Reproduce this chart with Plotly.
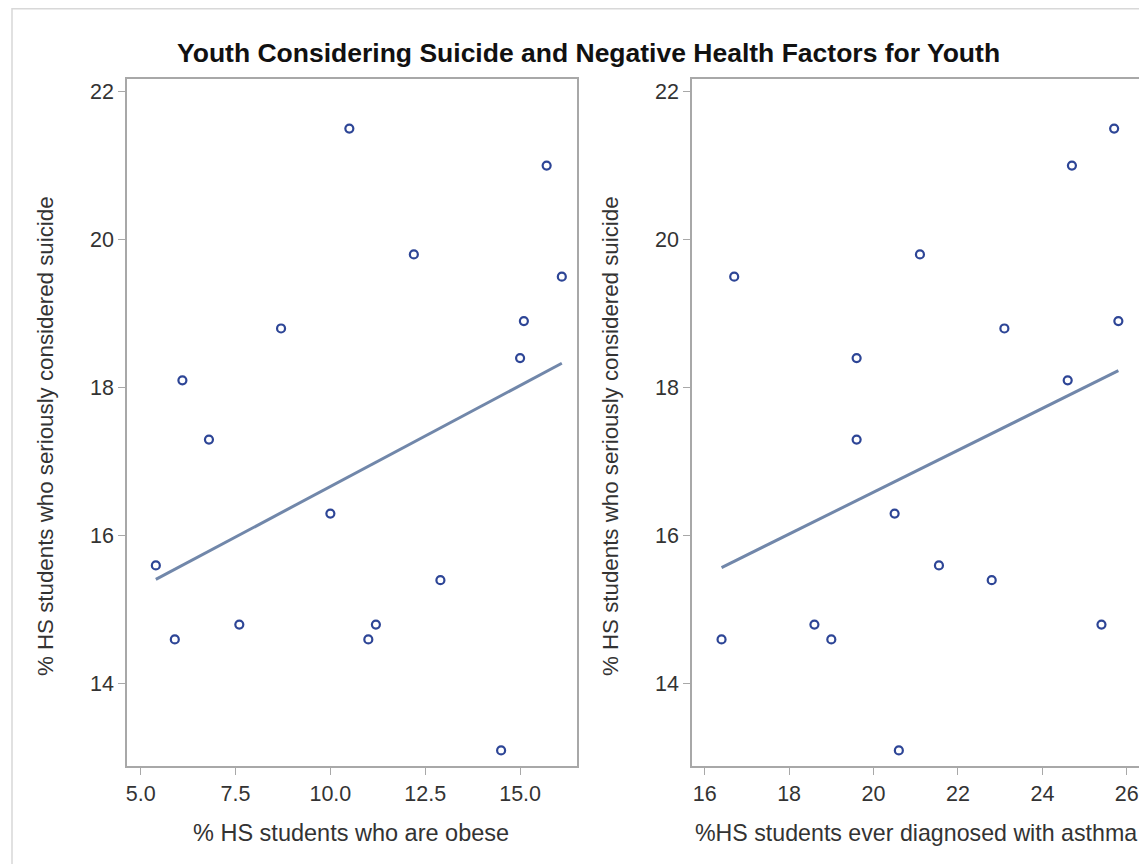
import plotly.graph_objects as go

# Data (one row per state)
suicide = [21.5, 21.0, 19.8, 19.5, 18.8, 18.9, 18.4, 18.1, 17.3, 16.3, 15.6, 15.4, 14.8, 14.8, 14.6, 14.6, 13.1]
obese   = [10.5, 15.7, 12.2, 16.1, 8.7, 15.1, 15.0, 6.1, 6.8, 10.0, 5.4, 12.9, 7.6, 11.2, 5.9, 11.0, 14.5]
asthma  = [25.7, 24.7, 21.1, 16.7, 23.1, 25.8, 19.6, 24.6, 19.6, 20.5, 21.55, 22.8, 18.6, 25.4, 16.4, 19.0, 20.6]

# Regression fit lines (endpoints)
fit_obese_x = [5.4, 16.1]
fit_obese_y = [15.41, 18.33]
fit_asthma_x = [16.4, 25.8]
fit_asthma_y = [15.57, 18.23]

title_text = "Youth Considering Suicide and Negative Health Factors for Youth"
xlabel1 = "% HS students who are obese"
xlabel2 = "%HS students ever diagnosed with asthma"
ylabel = "% HS students who seriously considered suicide"

# page has an 8px body margin, so the figure is placed at (8, 8)
OFF = 8
W, H = 1147 - OFF, 864 - OFF
FONT = "Liberation Sans, Arial, sans-serif"
MARK = "#2d4596"
FIT = "#7187aa"
FRAME = "#a8a8a8"
TXT = "#333333"

fig = go.Figure()
marker = dict(symbol="circle-open", size=8, color=MARK, line=dict(width=2.2, color=MARK))
fig.add_trace(go.Scatter(x=obese, y=suicide, mode="markers", marker=marker, xaxis="x", yaxis="y", showlegend=False))
fig.add_trace(go.Scatter(x=fit_obese_x, y=fit_obese_y, mode="lines", line=dict(color=FIT, width=3), xaxis="x", yaxis="y", showlegend=False))
fig.add_trace(go.Scatter(x=asthma, y=suicide, mode="markers", marker=marker, xaxis="x2", yaxis="y2", showlegend=False))
fig.add_trace(go.Scatter(x=fit_asthma_x, y=fit_asthma_y, mode="lines", line=dict(color=FIT, width=3), xaxis="x2", yaxis="y2", showlegend=False))

def px_x(p):
    return (p - OFF) / W

def px_y(p):
    return 1 - (p - OFF) / H

ax_common = dict(
    showgrid=False, zeroline=False, showline=True, linecolor=FRAME, linewidth=1.5,
    mirror=True, ticks="outside", ticklen=7, tickwidth=1, tickcolor=FRAME,
    tickfont=dict(family=FONT, size=21.5, color=TXT),
)

fig.update_layout(
    width=W, height=H,
    margin=dict(l=0, r=0, t=0, b=0),
    paper_bgcolor="white", plot_bgcolor="white",
    xaxis=dict(domain=[px_x(127), px_x(577)], range=[4.64, 16.5], tickvals=[5, 7.5, 10, 12.5, 15],
               ticktext=["5.0", "7.5", "10.0", "12.5", "15.0"], anchor="y", **ax_common),
    yaxis=dict(domain=[px_y(766), px_y(79)], range=[12.89, 22.17], tickvals=[14, 16, 18, 20, 22],
               anchor="x", **ax_common),
    xaxis2=dict(domain=[px_x(692), px_x(1142)], range=[15.70, 26.36], tickvals=[16, 18, 20, 22, 24, 26],
                anchor="y2", **ax_common),
    yaxis2=dict(domain=[px_y(766), px_y(79)], range=[12.89, 22.17], tickvals=[14, 16, 18, 20, 22],
                anchor="x2", **ax_common),
    showlegend=False,
)

fig.add_annotation(text="<b>" + title_text + "</b>", xref="paper", yref="paper",
                   x=px_x(588), y=px_y(53), showarrow=False, xanchor="center", yanchor="middle",
                   font=dict(family=FONT, size=26.5, color="#111111"))
fig.add_annotation(text=xlabel1, xref="paper", yref="paper", x=px_x(351), y=px_y(833),
                   showarrow=False, xanchor="center", yanchor="middle",
                   font=dict(family=FONT, size=23.5, color=TXT))
fig.add_annotation(text=xlabel2, xref="paper", yref="paper", x=px_x(916), y=px_y(833),
                   showarrow=False, xanchor="center", yanchor="middle",
                   font=dict(family=FONT, size=23.2, color=TXT))
fig.add_annotation(text=ylabel, xref="paper", yref="paper", x=px_x(45), y=px_y(436),
                   showarrow=False, xanchor="center", yanchor="middle", textangle=-90,
                   font=dict(family=FONT, size=22.3, color=TXT))
fig.add_annotation(text=ylabel, xref="paper", yref="paper", x=px_x(610), y=px_y(436),
                   showarrow=False, xanchor="center", yanchor="middle", textangle=-90,
                   font=dict(family=FONT, size=22.3, color=TXT))

# outer light border
fig.add_shape(type="rect", xref="paper", yref="paper", x0=px_x(12), x1=1.01, y0=-0.01, y1=px_y(8.8),
              line=dict(color="#d8d8d8", width=1.5), fillcolor="rgba(0,0,0,0)", layer="below")

fig.write_html("out.html")
